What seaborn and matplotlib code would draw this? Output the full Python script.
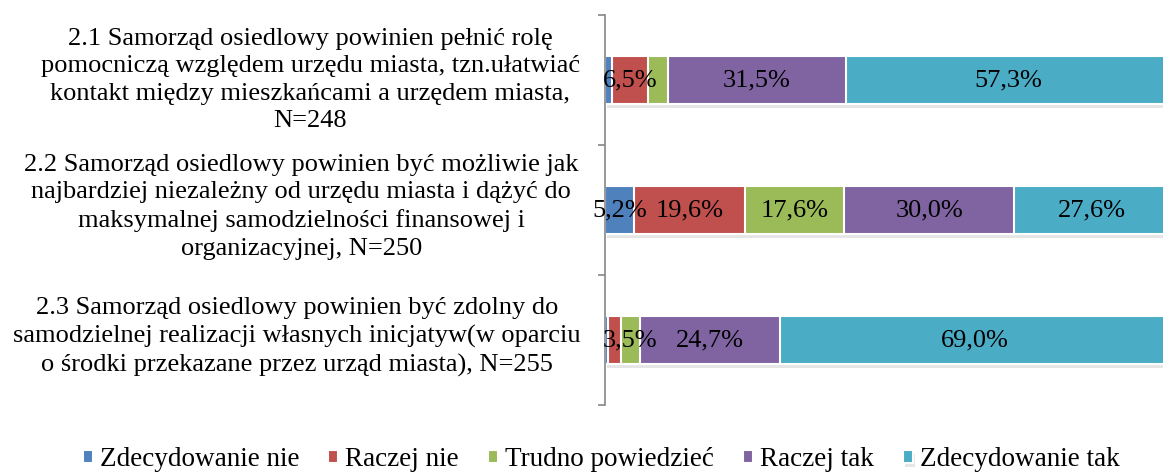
import pandas as pd
import seaborn as sns
import matplotlib.pyplot as plt
import matplotlib.patheffects as pe
from matplotlib.transforms import blended_transform_factory

# categories (questions) and answer shares in %
questions = [
    "2.1 Samorząd osiedlowy powinien pełnić rolę\npomocniczą względem urzędu miasta, tzn.ułatwiać\nkontakt między mieszkańcami a urzędem miasta,\nN=248",
    "2.2 Samorząd osiedlowy powinien być możliwie jak\nnajbardziej niezależny od urzędu miasta i dążyć do\nmaksymalnej samodzielności finansowej i\norganizacyjnej, N=250",
    "2.3 Samorząd osiedlowy powinien być zdolny do\nsamodzielnej realizacji własnych inicjatyw(w oparciu\no środki przekazane przez urząd miasta), N=255",
]
answers = ['Zdecydowanie nie', 'Raczej nie', 'Trudno powiedzieć', 'Raczej tak', 'Zdecydowanie tak']
zdecydowanie_nie = [1.2, 5.2, 0.6]
raczej_nie = [6.5, 19.6, 2.2]
trudno = [3.5, 17.6, 3.5]
raczej_tak = [31.5, 30.0, 24.7]
zdecydowanie_tak = [57.3, 27.6, 69.0]
# which segment labels are visible in the original
show_nie = [False, True, False]
show_raczej_nie = [True, True, False]
show_trudno = [False, True, True]
show_raczej_tak = [True, True, True]
show_tak = [True, True, True]

colors = ['#4F81BD', '#C0504D', '#9BBB59', '#8064A2', '#4BACC6']

series = [zdecydowanie_nie, raczej_nie, trudno, raczej_tak, zdecydowanie_tak]
shows = [show_nie, show_raczej_nie, show_trudno, show_raczej_tak, show_tak]

df = pd.DataFrame({a: s for a, s in zip(answers, series)})
df['question'] = questions
cum = df[answers].cumsum(axis=1)
cum['question'] = questions

sns.set_style('white')
plt.rcParams['font.family'] = ['Liberation Serif', 'DejaVu Serif']
plt.rcParams['text.color'] = 'black'

fig = plt.figure(figsize=(11.63, 4.72), dpi=100)
ax = fig.add_axes([0.520, 0.142, 0.486, 0.826])

# stacked bars: draw cumulative totals, largest first
for i in range(len(answers) - 1, -1, -1):
    sns.barplot(data=cum, x=answers[i], y='question', orient='h', color=colors[i],
                width=0.37, edgecolor='white', linewidth=1.5, saturation=1,
                label=answers[i], ax=ax)
    if i == len(answers) - 1:
        # soft shadow under the whole bar, like the Excel original
        for p in ax.patches:
            p.set_path_effects([pe.withSimplePatchShadow(offset=(1.5, -3), shadow_rgbFace='#999999', alpha=0.25)])

handles, labels = ax.get_legend_handles_labels()
if ax.get_legend() is not None:
    ax.get_legend().remove()

# value labels in the middle of each segment
for i, a in enumerate(answers):
    for j in range(len(questions)):
        if shows[i][j]:
            v = df[a][j]
            xc = cum[a][j] - v / 2
            ax.text(xc, j, f"{v:.1f}%".replace('.', ','), ha='center', va='center',
                    fontsize=19, color='black')

ax.set_xlim(0, 100)
ax.set_ylim(2.5, -0.5)
ax.set_xlabel('')
ax.set_ylabel('')
ax.set_xticks([])
for s in ['top', 'right', 'bottom']:
    ax.spines[s].set_visible(False)
ax.spines['left'].set_color('#868686')
ax.spines['left'].set_linewidth(1.2)
ax.set_yticks([-0.5, 0.5, 1.5, 2.5], minor=True)
ax.tick_params(axis='y', which='minor', left=True, length=5, width=1.2, color='#868686')
ax.set_yticks(range(len(questions)))
ax.set_yticklabels([])
ax.tick_params(axis='y', which='major', left=False, length=0)

# category labels, centred in the area left of the axis
trans = blended_transform_factory(ax.transAxes, ax.transData)
for j, (q, dx, dy) in enumerate(zip(questions, [0.012, -0.004, -0.012], [0.0, -0.025, -0.025])):
    ax.text(-0.533 + dx, j + dy, q, transform=trans, ha='center', va='center',
            multialignment='center', fontsize=19, linespacing=1.33, color='black')

order = [labels.index(a) for a in answers]
fig.legend([handles[k] for k in order], answers, loc='center', bbox_to_anchor=(0.517, 0.026),
           ncol=5, frameon=False, fontsize=19.5, handlelength=0.37, handleheight=0.37,
           handletextpad=0.26, columnspacing=1.07, borderaxespad=0, labelcolor='black')

plt.savefig('out.png', dpi=100)
